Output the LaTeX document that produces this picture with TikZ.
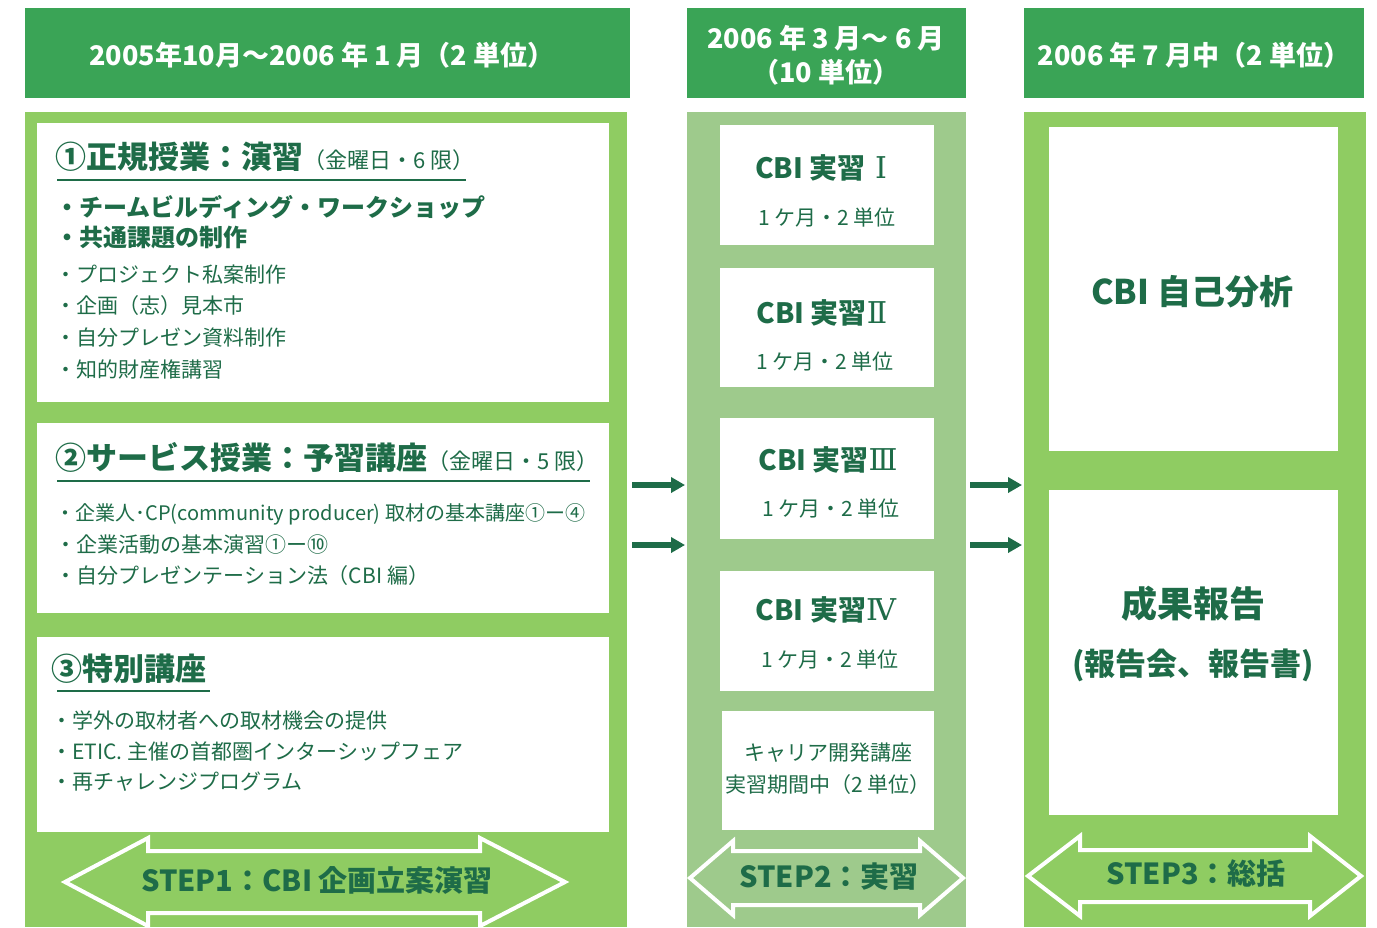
\documentclass[tikz,border=0pt]{standalone}
\usepackage{fontspec}
\setmainfont{Noto Sans CJK JP}
\newfontfamily\romfont{DejaVu Serif}
\usetikzlibrary{arrows.meta}
\definecolor{hdr}{RGB}{58,164,86}
\definecolor{lg}{RGB}{143,204,98}
\definecolor{mg}{RGB}{158,202,140}
\definecolor{tg}{RGB}{30,108,72}
\newcommand{\myfs}[1]{\fontsize{#1pt}{#1pt}\selectfont}
\begin{document}
\begin{tikzpicture}[x=0.5pt,y=-0.5pt,
  hdrtext/.style={text=white, font=\bfseries\fontsize{13.5pt}{17pt}\selectfont, align=center, inner sep=0pt},
  ttl/.style={text=tg, anchor=west, inner sep=0pt, font=\bfseries\myfs{15.5}},
  bitem/.style={text=tg, anchor=west, inner sep=0pt, font=\bfseries\myfs{12}},
  item/.style={text=tg, anchor=west, inner sep=0pt, font=\myfs{10.5}},
  jtitle/.style={text=tg, inner sep=0pt, font=\bfseries\myfs{14}},
  jsub/.style={text=tg, inner sep=0pt, font=\myfs{10.5}},
  bigt/.style={text=tg, inner sep=0pt, font=\bfseries\myfs{17}},
  steptext/.style={text=tg, inner sep=0pt, font=\bfseries\myfs{14.5}},
  uline/.style={draw=tg, line width=0.8pt},
  dblarrow/.style={draw=white, line width=2pt, line join=miter},
  flow/.style={draw=tg, line width=2.8pt, -{Triangle[length=7pt,width=7.5pt]}}]
\useasboundingbox (0,0) rectangle (1377,927);
\fill[white] (0,0) rectangle (1377,927);
% headers
\fill[hdr] (25,8) rectangle (630,98);
\fill[hdr] (687,8) rectangle (966,98);
\fill[hdr] (1024,8) rectangle (1364,98);
\node[hdrtext] (h1) at (322,55) {2005年10月～2006 年 1 月（2 単位）};
\node[hdrtext] (h2) at (826,55) {2006 年 3 月～ 6 月\\（10 単位）};
\node[hdrtext] (h3) at (1194,55) {2006 年 7 月中（2 単位）};
% column bodies
\fill[lg] (25,112) rectangle (627,927);
\fill[mg] (687,112) rectangle (966,927);
\fill[lg] (1024,112) rectangle (1366,927);
% white boxes column 1
\fill[white] (37,123) rectangle (609,402);
\fill[white] (37,423) rectangle (609,613);
\fill[white] (37,637) rectangle (609,832);
% white boxes column 2
\fill[white] (720,125) rectangle (934,245);
\fill[white] (720,268) rectangle (934,387);
\fill[white] (720,418) rectangle (934,539);
\fill[white] (720,571) rectangle (934,691);
\fill[white] (722,711) rectangle (934,830);
% white boxes column 3
\fill[white] (1049,127) rectangle (1338,451);
\fill[white] (1049,490) rectangle (1338,815);
% box 1 text
\node[ttl] (t1) at (55,157) {①正規授業：演習{\mdseries\myfs{11}（金曜日・6 限）}};
\draw[uline] (57,180) -- (466,180);
\node[bitem] (b1a) at (55,207) {・チームビルディング・ワークショップ};
\node[bitem] (b1b) at (55,238) {・共通課題の制作};
\node[item] (i1a) at (55,275) {・プロジェクト私案制作};
\node[item] (i1b) at (55,306) {・企画（志）見本市};
\node[item] (i1c) at (55,338) {・自分プレゼン資料制作};
\node[item] (i1d) at (55,369) {・知的財産権講習};
% box 2 text
\node[ttl] (t2) at (55,457) {②サービス授業：予習講座{\mdseries\myfs{11}（金曜日・5 限）}};
\draw[uline] (57,481) -- (590,481);
\node[item, font=\myfs{10}] (i2a) at (55,514) {・企業人･CP(community producer) 取材の基本講座①ー④};
\node[item] (i2b) at (55,545) {・企業活動の基本演習①ー⑩};
\node[item] (i2c) at (55,576) {・自分プレゼンテーション法（CBI 編）};
% box 3 text
\node[ttl] (t3) at (51,669) {③特別講座};
\draw[uline] (57,691) -- (210,691);
\node[item] (i3a) at (51,720) {・学外の取材者への取材機会の提供};
\node[item] (i3b) at (51,751) {・ETIC. 主催の首都圏インターシップフェア};
\node[item] (i3c) at (51,782) {・再チャレンジプログラム};
% column 2 text
\node[jtitle] (j1) at (821,168) {CBI 実習{\romfont\mdseries\myfs{15} Ⅰ}};
\node[jsub] (s1) at (827,218) {1 ケ月・2 単位};
\node[jtitle] (j2) at (822,313) {CBI 実習{\romfont\mdseries\myfs{15}Ⅱ}};
\node[jsub] (s2) at (825,362) {1 ケ月・2 単位};
\node[jtitle] (j3) at (828,460) {CBI 実習{\romfont\mdseries\myfs{15}Ⅲ}};
\node[jsub] (s3) at (831,509) {1 ケ月・2 単位};
\node[jtitle] (j4) at (826,610) {CBI 実習{\romfont\mdseries\myfs{15}Ⅳ}};
\node[jsub] (s4) at (830,660) {1 ケ月・2 単位};
\node[jsub, align=center, font=\fontsize{10.5pt}{16pt}\selectfont] (k1) at (828,769) {キャリア開発講座\\実習期間中（2 単位）};
% column 3 text
\node[bigt] (c1) at (1192,292) {CBI 自己分析};
\node[bigt, font=\bfseries\myfs{18}] (c2) at (1193,604) {成果報告};
\node[bigt, font=\bfseries\myfs{15.5}] (c3) at (1193,665) {(報告会、報告書)};
% step arrows
\draw[dblarrow] (65,882) -- (148,838) -- (148,851) -- (480,851) -- (480,838) -- (565,882) -- (480,926) -- (480,913) -- (148,913) -- (148,926) -- cycle;
\node[steptext] (st1) at (317,880) {STEP1：CBI 企画立案演習};
\draw[dblarrow] (690,878) -- (733,841) -- (733,851) -- (920,851) -- (920,841) -- (963,878) -- (920,915) -- (920,905) -- (733,905) -- (733,915) -- cycle;
\node[steptext] (st2) at (829,877) {STEP2：実習};
\draw[dblarrow] (1028,876) -- (1080,836) -- (1080,850) -- (1310,850) -- (1310,836) -- (1361,876) -- (1310,916) -- (1310,902) -- (1080,902) -- (1080,916) -- cycle;
\node[steptext] (st3) at (1196,873) {STEP3：総括};
% flow arrows
\coordinate (a1s) at (632,485); \coordinate (a1e) at (685,485);
\coordinate (a2s) at (632,545); \coordinate (a2e) at (685,545);
\coordinate (a3s) at (970,485); \coordinate (a3e) at (1022,485);
\coordinate (a4s) at (970,545); \coordinate (a4e) at (1022,545);
\draw[flow] (a1s) -- (a1e);
\draw[flow] (a2s) -- (a2e);
\draw[flow] (a3s) -- (a3e);
\draw[flow] (a4s) -- (a4e);
\end{tikzpicture}
\end{document}
